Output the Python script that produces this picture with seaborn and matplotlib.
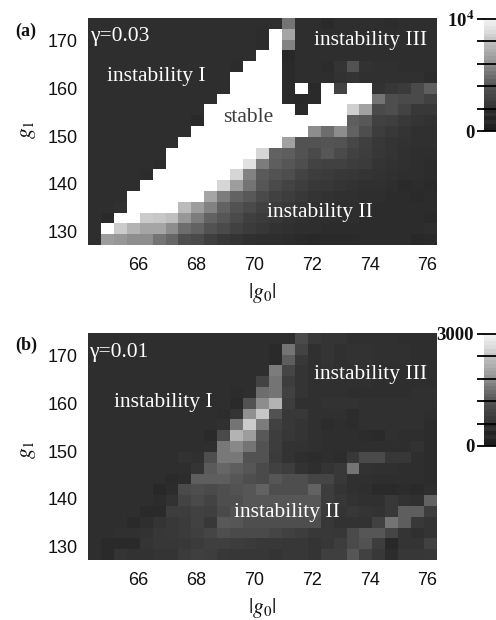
import numpy as np
import pandas as pd
import seaborn as sns
import matplotlib.pyplot as plt

W, H = 496, 620
S = np.nan  # stable cells, left white

g0_ticks = [66, 68, 70, 72, 74, 76]
g1_ticks = [130, 140, 150, 160, 170]
g0_range = (64.25, 76.33)
g1_range = (127.2, 174.7)

# cell brightness as percent of the colour scale, top row first
panel_a = [
    [5,5,5,5,5,5,5,5,5,5,5,5,5,5,5,38,5,5,3,5,5,5,5,4,5,5,5],
    [5,5,5,5,5,5,5,5,5,5,5,5,5,4,S,62,5,5,5,5,5,5,5,5,5,5,5],
    [5,5,5,5,5,5,5,5,5,5,5,5,5,4,S,45,5,5,5,5,5,5,5,5,5,5,5],
    [5,5,5,5,5,5,5,5,5,5,5,5,5,S,S,2,5,5,5,5,5,5,5,5,5,5,5],
    [5,5,5,5,5,5,5,5,5,5,5,4,S,S,S,3,5,5,4,8,22,7,6,6,5,5,5],
    [5,5,5,5,5,5,5,5,5,5,5,S,S,S,S,3,5,5,5,7,8,6,6,6,6,6,4],
    [5,5,5,5,5,5,5,5,5,5,5,S,S,S,S,3,S,3,S,15,S,S,7,9,11,18,28],
    [5,5,5,5,5,5,5,5,5,5,S,S,S,S,S,3,2,3,S,S,S,S,38,20,18,18,14],
    [5,5,5,5,5,5,5,5,5,S,S,S,S,S,S,S,3,S,S,S,82,60,18,20,15,10,10],
    [5,5,5,5,5,5,5,5,3,S,S,S,S,S,S,S,S,S,S,S,28,25,14,13,10,8,7],
    [5,5,5,5,5,5,5,5,S,S,S,S,S,S,S,S,S,50,35,50,30,20,12,10,8,6,6],
    [5,5,5,5,5,5,5,S,S,S,S,S,S,S,S,60,22,22,23,22,17,13,10,8,7,6,6],
    [5,5,5,5,5,5,S,S,S,S,S,S,S,85,30,28,22,18,24,18,14,12,9,8,6,5,5],
    [5,5,5,5,5,4,S,S,S,S,S,S,90,42,28,24,20,15,14,14,12,11,8,7,6,5,4],
    [5,5,5,5,4,S,S,S,S,S,S,85,45,26,22,20,15,12,11,10,9,8,7,6,5,5,4],
    [5,5,5,5,S,S,S,S,S,S,85,58,38,24,18,15,12,10,9,8,7,6,6,5,3,4,3],
    [5,5,5,S,S,S,S,S,S,62,42,30,25,18,14,12,10,8,7,6,6,5,5,4,4,3,4],
    [5,5,6,S,S,S,S,72,58,45,30,22,18,14,11,9,8,6,6,5,5,5,4,4,4,4,4],
    [5,3,S,S,80,78,74,55,42,30,24,18,13,11,9,7,6,5,5,5,5,4,4,4,4,4,3],
    [5,S,80,68,62,62,50,35,30,22,18,14,11,9,7,6,5,5,4,4,4,4,4,4,4,4,5],
    [5,58,55,50,50,38,32,20,18,13,10,8,6,5,5,4,3,2,3,3,3,4,4,4,4,2,3],
]
panel_b = [
    [5,5,5,5,5,5,5,5,5,5,5,5,5,5,5,5,18,10,8,8,6,6,6,6,5,5,5],
    [5,5,5,5,5,5,5,5,5,5,5,5,5,5,3,38,15,6,8,6,7,7,6,6,6,5,5],
    [5,5,5,5,5,5,5,5,5,5,5,5,5,5,3,28,10,6,8,6,7,7,6,6,6,5,5],
    [5,5,5,5,5,5,5,5,5,5,5,5,5,5,42,16,8,6,7,6,6,6,5,5,5,5,5],
    [5,5,5,5,5,5,5,5,5,5,5,5,5,15,38,12,8,6,6,6,6,6,5,5,5,5,5],
    [5,5,5,5,5,5,5,5,5,5,5,4,5,35,38,14,8,6,6,6,5,5,5,5,5,6,6],
    [5,5,5,5,5,5,5,5,5,5,5,3,22,50,68,12,6,6,7,7,7,6,6,6,6,6,6],
    [5,5,5,5,5,5,5,5,5,5,4,8,52,78,22,10,10,6,6,6,4,6,6,6,6,6,5],
    [5,5,5,5,5,5,5,5,5,5,6,38,80,42,14,10,8,6,4,5,4,6,6,6,6,6,4],
    [5,5,5,5,5,5,5,5,5,3,18,68,58,25,12,9,8,6,5,5,5,4,3,6,5,5,4],
    [5,5,5,5,5,5,5,5,5,5,40,48,38,22,12,7,7,6,5,5,5,5,5,5,5,7,4],
    [5,5,5,5,5,5,5,7,6,20,40,40,22,22,11,7,5,4,5,4,10,18,18,9,9,5,4],
    [5,5,5,5,5,5,5,5,8,26,32,28,24,18,14,12,7,5,8,10,38,7,6,6,5,5,4],
    [5,5,5,5,5,5,3,4,28,28,28,24,20,18,24,20,20,16,16,10,6,6,5,5,5,5,4],
    [5,5,5,5,5,2,4,18,20,18,20,22,24,30,20,20,20,30,12,8,6,5,3,3,4,3,5],
    [5,5,5,5,5,4,7,15,18,15,20,20,24,24,24,24,24,24,12,9,7,6,6,10,7,6,30],
    [5,5,5,5,3,3,12,12,14,13,18,22,22,22,22,22,22,22,11,8,9,8,7,10,28,28,12],
    [5,5,5,3,5,8,10,11,14,10,25,24,20,20,20,20,20,20,9,7,7,7,14,38,28,10,8],
    [5,5,6,6,7,9,10,11,13,16,20,18,18,18,16,14,12,10,10,9,18,24,24,16,8,6,8],
    [5,3,3,3,8,9,9,10,11,13,13,12,11,10,10,9,9,8,9,12,18,22,12,2,8,8,14],
    [5,3,8,7,7,8,8,11,13,12,10,9,9,9,8,9,9,8,13,13,24,14,10,4,9,9,10],
]
# colour bar gray levels (0-1), top to bottom
cbar_levels = [0.94, 0.92, 0.89, 0.86, 0.82, 0.78, 0.74, 0.71, 0.68, 0.65,
               0.62, 0.58, 0.54, 0.50, 0.46, 0.42, 0.38, 0.35, 0.32, 0.29,
               0.27, 0.25, 0.23, 0.21, 0.16, 0.19, 0.14, 0.17, 0.13, 0.12]

sns.set_theme(style="white")
plt.rcParams['font.family'] = ['Liberation Sans', 'DejaVu Sans']
plt.rcParams['mathtext.fontset'] = 'stix'

cmap = sns.blend_palette(['#242424', '#f5f5f5'], as_cmap=True)
fig = plt.figure(figsize=(W / 100, H / 100), dpi=100)


def pix_axes(x0, y0, x1, y1):
    return fig.add_axes([x0 / W, 1 - y1 / H, (x1 - x0) / W, (y1 - y0) / H])


def put(x, y, s, size=15.5, color='white', **kw):
    kw.setdefault('family', 'Liberation Serif')
    fig.text(x / W, 1 - y / H, s, fontsize=size, color=color, ha='center', va='center', **kw)


def draw_panel(rows, vmax, top, bar_top, bar_bot, top_label):
    ax = pix_axes(88, top, 437, top + 227)
    df = pd.DataFrame(rows) * vmax / 100
    sns.heatmap(df, ax=ax, cmap=cmap, vmin=0, vmax=vmax, cbar=False,
                xticklabels=False, yticklabels=False)
    nrows, ncols = df.shape
    ax.set_xticks([(v - g0_range[0]) / (g0_range[1] - g0_range[0]) * ncols for v in g0_ticks])
    ax.set_xticklabels(g0_ticks)
    ax.set_yticks([(g1_range[1] - v) / (g1_range[1] - g1_range[0]) * nrows for v in g1_ticks])
    ax.set_yticklabels(g1_ticks)
    ax.tick_params(length=0, labelsize=13, colors='#111111')
    ax.tick_params(axis='x', pad=8.5)
    ax.tick_params(axis='y', pad=7.5)

    cax = pix_axes(483.5, bar_top, 510, bar_bot)
    sns.heatmap(pd.DataFrame({'level': cbar_levels}), ax=cax, cmap='gray', vmin=0, vmax=1,
                cbar=False, xticklabels=False, yticklabels=False)
    n = len(cbar_levels)
    cax.set_yticks(np.linspace(0, n, 6))
    cax.set_yticklabels([top_label, '', '', '', '', '0'], family='Liberation Serif',
                        fontsize=13.5, fontweight='bold', color='#111111')
    cax.tick_params(axis='y', left=True, length=4.7, width=1.3, color='black', pad=2)
    cax.yaxis.grid(True, color='black', lw=1.3)
    cax.set_axisbelow(False)
    for line in cax.get_ygridlines():
        line.set_clip_on(False)


draw_panel(panel_a, 10000, 18, 18.7, 131.3, r'10$^{\mathbf{4}}$')
draw_panel(panel_b, 3000, 333, 334, 446, '3000')

put(26, 31, '(a)', size=13, color='#111111', fontweight='bold')
put(119.5, 37, '\u03b3=0.03')
put(156, 77, 'instability I')
put(248, 118, 'stable', color='#3c3c3c')
put(371, 41, 'instability III')
put(320, 213, 'instability II')
put(262, 293, r'$|g_0|$', size=15.5, color='#111111')
put(29, 130, r'$g_1$', size=15.5, color='#111111', rotation=90)

put(26, 345, '(b)', size=13, color='#111111', fontweight='bold')
put(119, 352, '\u03b3=0.01')
put(163, 403, 'instability I')
put(371, 374, 'instability III')
put(287, 513, 'instability II')
put(262, 608, r'$|g_0|$', size=15.5, color='#111111')
put(29, 450, r'$g_1$', size=15.5, color='#111111', rotation=90)

fig.savefig('out.png', dpi=100)
